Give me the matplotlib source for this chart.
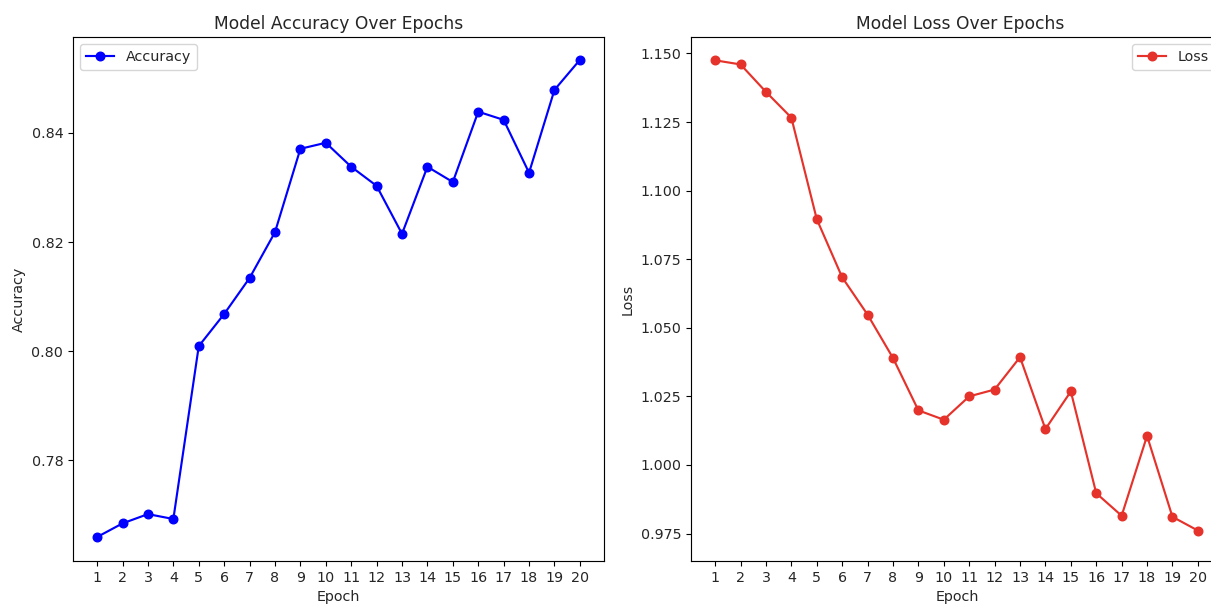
import matplotlib
matplotlib.use("Agg")
import matplotlib.pyplot as plt

epochs = list(range(1, 21))
accuracy = [0.7659, 0.7684, 0.7701, 0.7692, 0.8009, 0.8068, 0.8134, 0.8218, 0.8371, 0.8382,
            0.8338, 0.8303, 0.8215, 0.8338, 0.8310, 0.8439, 0.8424, 0.8327, 0.8479, 0.8534]
loss = [1.1475, 1.1460, 1.1360, 1.1266, 1.0896, 1.0684, 1.0548, 1.0390, 1.0199, 1.0165,
        1.0250, 1.0275, 1.0393, 1.0131, 1.0268, 0.9897, 0.9815, 1.0106, 0.9811, 0.9761]

s = 1.03
plt.rcParams['font.size'] = 10 * s
plt.rcParams['lines.linewidth'] = 1.5 * s
plt.rcParams['lines.markersize'] = 6 * s
plt.rcParams['axes.linewidth'] = 0.8 * s
plt.rcParams['text.color'] = '#262626'
plt.rcParams['xtick.labelcolor'] = '#262626'
plt.rcParams['ytick.labelcolor'] = '#262626'
plt.rcParams['axes.labelcolor'] = '#262626'

W, H = 1211, 606
fig = plt.figure(figsize=(W / 100, H / 100), dpi=100)

def box(x0, y0, x1, y1):
    return [x0 / W, 1 - y1 / H, (x1 - x0) / W, (y1 - y0) / H]

ax1 = fig.add_axes(box(73, 37, 604, 561))
ax2 = fig.add_axes(box(691, 37, 1222, 561))

ax1.plot(epochs, accuracy, marker='o', color='blue', label='Accuracy')
ax1.set_title('Model Accuracy Over Epochs')
ax1.set_xlabel('Epoch')
ax1.set_ylabel('Accuracy')
ax1.set_xticks(epochs)
ax1.set_yticks([0.78, 0.80, 0.82, 0.84])
ax1.set_ylim(0.7615, 0.8576)
ax1.legend(loc='upper left')

ax2.plot(epochs, loss, marker='o', color='#e5322a', label='Loss')
ax2.set_title('Model Loss Over Epochs', x=(960 - 691) / 531)
ax2.set_xlabel('Epoch')
ax2.xaxis.set_label_coords((957 - 691) / 531, -0.055)
ax2.set_ylabel('Loss')
ax2.set_xticks(epochs)
ax2.set_yticks([0.975, 1.000, 1.025, 1.050, 1.075, 1.100, 1.125, 1.150])
ax2.set_ylim(0.9650, 1.1560)
ax2.legend(loc='upper right')

fig.savefig('out.png', dpi=100)
